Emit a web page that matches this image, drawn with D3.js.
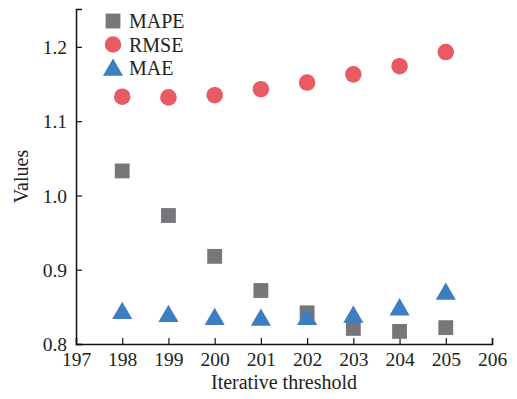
<!DOCTYPE html>
<html>
<head>
<meta charset="utf-8">
<script src="https://cdn.jsdelivr.net/npm/d3@7"></script>
<style>
  html, body { margin: 0; padding: 0; background: #fff; }
  svg { display: block; }
  text { font-family: "Liberation Serif", "Times New Roman", serif; fill: #222; }
</style>
</head>
<body>
<svg id="chart" width="517" height="399"></svg>
<script>
// Iterative threshold values on the x axis
const thresholds = [198, 199, 200, 201, 202, 203, 204, 205];
// Error metrics per threshold
const mape = [1.033, 0.973, 0.918, 0.872, 0.842, 0.821, 0.817, 0.822];
const rmse = [1.133, 1.132, 1.135, 1.143, 1.152, 1.163, 1.174, 1.193];
const mae  = [0.844, 0.840, 0.836, 0.835, 0.836, 0.839, 0.849, 0.870];
const xTicks = [197, 198, 199, 200, 201, 202, 203, 204, 205, 206];
const yTicks = [0.8, 0.9, 1.0, 1.1, 1.2];
const seriesNames = ["MAPE", "RMSE", "MAE"];

const colors = { MAPE: "#76767b", RMSE: "#e85b63", MAE: "#3d7dc2" };
const shapes = { MAPE: d3.symbolSquare, RMSE: d3.symbolCircle, MAE: d3.symbolTriangle };
const sizes  = { MAPE: 220, RMSE: 215, MAE: 175 };
const serif = "'Liberation Serif', 'Times New Roman', serif";

const svg = d3.select("#chart");
const margin = { left: 76, right: 25, top: 9, bottom: 55 };
const W = 517, H = 399;

const x = d3.scaleLinear().domain([197, 206]).range([margin.left, W - margin.right]);
const y = d3.scaleLinear().domain([0.8, 1.251]).range([H - margin.bottom, margin.top]);

// x axis, ticks pointing inward
const xAxis = svg.append("g")
  .attr("transform", `translate(0,${H - margin.bottom})`)
  .call(d3.axisBottom(x).tickValues(xTicks).tickFormat(d3.format("d")).tickSize(-6).tickPadding(8));
// y axis, ticks pointing inward
const yAxis = svg.append("g")
  .attr("transform", `translate(${margin.left},0)`)
  .call(d3.axisLeft(y).tickValues(yTicks).tickFormat(d3.format(".1f")).tickSize(-6).tickPadding(9));

[xAxis, yAxis].forEach(g => {
  g.attr("font-family", serif).attr("font-size", 19.5);
  g.select(".domain").attr("stroke", "#111").attr("stroke-width", 1.5);
  g.selectAll(".tick line").attr("stroke", "#111").attr("stroke-width", 1.2);
  g.selectAll(".tick text").attr("fill", "#222");
});
yAxis.selectAll(".tick text").attr("dy", "0.35em");

// axis titles
svg.append("text")
  .attr("x", (margin.left + W - margin.right) / 2)
  .attr("y", 389)
  .attr("text-anchor", "middle")
  .style("font-size", "20px")
  .text("Iterative threshold");
svg.append("text")
  .attr("transform", `translate(28,${(margin.top + H - margin.bottom) / 2}) rotate(-90)`)
  .attr("text-anchor", "middle")
  .style("font-size", "20px")
  .text("Values");

// markers
const data = { MAPE: mape, RMSE: rmse, MAE: mae };
["RMSE", "MAPE", "MAE"].forEach(name => {
  const sym = d3.symbol().type(shapes[name]).size(sizes[name]);
  svg.append("g").selectAll("path")
    .data(thresholds.map((t, i) => ({ t, v: data[name][i] })))
    .join("path")
    .attr("d", sym)
    .attr("transform", d => `translate(${x(d.t)},${y(d.v) + (name === "MAE" ? 2 : 0)})`)
    .attr("fill", colors[name]);
});

// legend
const legend = svg.append("g");
seriesNames.forEach((name, i) => {
  const cy = 21 + i * 23.5;
  legend.append("path")
    .attr("d", d3.symbol().type(shapes[name]).size(sizes[name])())
    .attr("transform", `translate(113,${cy + (name === "MAE" ? 2 : 0)})`)
    .attr("fill", colors[name]);
  legend.append("text")
    .attr("x", 129)
    .attr("y", cy)
    .attr("dy", "0.35em")
    .style("font-size", "20px")
    .text(name);
});
</script>
</body>
</html>
